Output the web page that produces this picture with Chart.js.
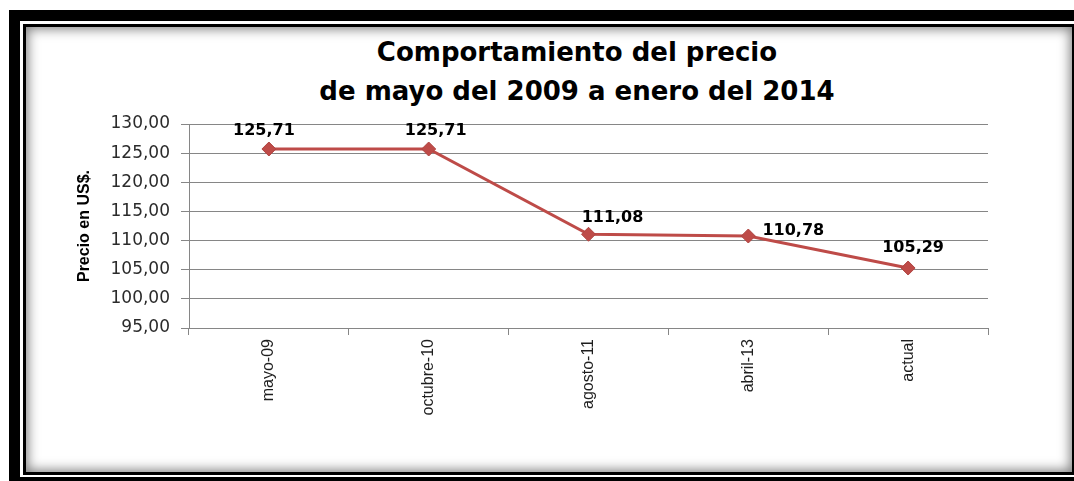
<!DOCTYPE html>
<html><head><meta charset="utf-8">
<script src="https://cdn.jsdelivr.net/npm/chart.js@4.4.1/dist/chart.umd.min.js"></script>
<style>
html,body{margin:0;padding:0;width:1074px;height:481px;overflow:hidden;background:#fff;}
.f{position:absolute;box-sizing:border-box;}
#outer{left:9px;top:10px;width:1065px;height:471px;background:#000;}
#gap{left:20px;top:21px;width:1054px;height:456px;background:#fff;}
#inner{left:23px;top:24px;width:1051px;height:451px;background:#fff;border:3px solid #000;border-right-width:2px;box-shadow:inset 0 0 12px 2px rgba(0,0,0,0.5);}
#title{position:absolute;left:0;width:1154px;top:33px;text-align:center;font:bold 26px "DejaVu Sans";line-height:39px;color:#000;z-index:2;}
canvas{position:absolute;left:0;top:0;z-index:3;}
</style></head>
<body>
<div class="f" id="outer"></div>
<div class="f" id="gap"></div>
<div class="f" id="inner"></div>
<div id="title"></div>
<canvas id="c" width="1074" height="481"></canvas>
<script>
const titleLines = ['Comportamiento del precio', 'de mayo del 2009 a enero del 2014'];
const categories = ['mayo-09', 'octubre-10', 'agosto-11', 'abril-13', 'actual'];
const precios = [125.71, 125.71, 111.08, 110.78, 105.29];
const yMin = 95, yMax = 130, yStep = 5;
const yTitle = 'Precio en US$.';

const fmt = v => Number(v).toFixed(2).replace('.', ',');
document.getElementById('title').innerHTML = titleLines.map(t => '<div>' + t + '</div>').join('');

const labelShift = [[-5, -18], [7, -18], [24, -16], [45, -5], [5, -20]];
const valueLabels = {
  id: 'valueLabels',
  afterDatasetsDraw(chart) {
    const ctx = chart.ctx;
    const meta = chart.getDatasetMeta(0);
    ctx.save();
    ctx.font = 'bold 16px "DejaVu Sans"';
    ctx.fillStyle = '#000';
    ctx.textAlign = 'center';
    ctx.textBaseline = 'middle';
    meta.data.forEach((pt, i) => {
      ctx.fillText(fmt(chart.data.datasets[0].data[i]), pt.x + labelShift[i][0], pt.y + labelShift[i][1]);
    });
    ctx.restore();
  }
};

new Chart(document.getElementById('c'), {
  type: 'line',
  data: {
    labels: categories,
    datasets: [{
      data: precios,
      borderColor: '#BE4B48',
      backgroundColor: '#BE4B48',
      borderWidth: 3,
      pointStyle: 'rectRot',
      pointRadius: 7,
      pointBorderWidth: 1,
      pointBackgroundColor: '#BE4B48',
      pointBorderColor: '#B04542',
      tension: 0,
      fill: false
    }]
  },
  options: {
    responsive: false,
    animation: false,
    devicePixelRatio: 1,
    layout: { padding: { left: 70, right: 86, top: 124, bottom: 20 } },
    plugins: { legend: { display: false }, tooltip: { enabled: false }, title: { display: false } },
    scales: {
      x: {
        type: 'category',
        offset: true,
        grid: { display: true, drawOnChartArea: false, offset: true, tickLength: 7, color: '#868686', lineWidth: 1 },
        border: { display: true, color: '#868686', width: 1 },
        ticks: { minRotation: 90, maxRotation: 90, padding: 4, color: '#1e1e1e', font: { family: 'Liberation Sans', size: 16 } },
        afterFit: s => { s.height = 133; }
      },
      y: {
        min: yMin, max: yMax,
        ticks: { stepSize: yStep, padding: 11, color: '#2b2b2b', font: { family: 'DejaVu Sans', size: 17 }, callback: v => fmt(v) },
        grid: { color: '#868686', tickLength: 8, lineWidth: 1 },
        border: { display: true, color: '#868686', width: 1 },
        title: { display: true, text: yTitle, color: '#000', padding: { top: 5, bottom: 0 }, font: { family: 'Liberation Sans', weight: 'bold', size: 16 } },
        afterFit: s => { s.width = 119; }
      }
    }
  },
  plugins: [valueLabels]
});
</script>
</body></html>
